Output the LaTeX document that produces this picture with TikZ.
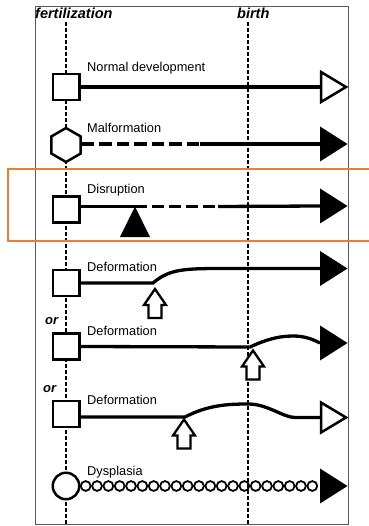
\documentclass[tikz,border=0pt]{standalone}
\usepackage{fontspec}
\setmainfont{Liberation Sans}
\usetikzlibrary{shapes.geometric}
\definecolor{hlorange}{RGB}{237,125,49}
\begin{document}
\begin{tikzpicture}[x=1pt,y=-1pt,
  box/.style={draw,line width=2.5pt,fill=white,minimum width=26.5pt,minimum height=26pt,inner sep=0pt},
  hexbox/.style={draw,line width=2.5pt,fill=white,regular polygon,regular polygon sides=6,shape border rotate=30,minimum size=34pt,inner sep=0pt},
  roundbox/.style={draw,circle,line width=2.5pt,fill=white,minimum size=26.5pt,inner sep=0pt},
  flow/.style={line width=3.3pt},
  longdash/.style={line width=3.3pt,dash pattern=on 12.5pt off 5pt},
  vdash/.style={line width=2.5pt,dash pattern=on 3.8pt off 2.2pt},
  lbl/.style={anchor=base west,inner sep=0pt,font=\fontsize{12.8}{14}\selectfont},
  hdr/.style={anchor=base west,inner sep=0pt,font=\fontsize{14.5}{16}\selectfont\bfseries\itshape},
  ortext/.style={anchor=base west,inner sep=0pt,font=\fontsize{13}{15}\selectfont\bfseries\itshape},
  openhead/.style={draw,line width=2.5pt,fill=white,line join=miter},
  uparrow/.style={draw,line width=2.3pt,fill=white,line join=miter},
  smallring/.style={draw,line width=1.8pt},
]
\useasboundingbox (0,0) rectangle (368,526);
% frame
\draw[black!65,line width=1pt] (35,7) rectangle (348,524);
% headers
\node[hdr] (fert) at (35,18.5) {fertilization};
\node[hdr] (birth) at (237,18.5) {birth};
% time lines
\coordinate (ftop) at (66,22);
\coordinate (fbot) at (66,526);
\coordinate (btop) at (248,22);
\coordinate (bbot) at (248,526);
\draw[vdash] (ftop) -- (fbot);
\draw[vdash] (btop) -- (bbot);

% highlight
\draw[hlorange,line width=1.2pt] (369,169) -- (8,169) -- (8,241) -- (369,241);

% row 1: normal development
\node[box] (n1) at (66,87) {};
\coordinate (h1) at (320,87);
\draw[flow] (n1.east) -- (h1);
\draw[openhead] (h1) ++(1,-15) -- ++(25,15) -- ++(-25,15) -- cycle;
\node[lbl] (l1) at (87,72) {Normal development};

% row 2: malformation
\node[hexbox] (n2) at (66,145) {};
\coordinate (m2) at (200,144);
\coordinate (h2) at (320,144);
\draw[longdash] (n2.east |- m2) -- (m2);
\draw[flow] (m2) -- (h2);
\fill (h2) ++(0,-17.5) -- ++(27.5,17.5) -- ++(-27.5,17.5) -- cycle;
\node[lbl] (l2) at (87,132.5) {Malformation};

% row 3: disruption
\node[box] (n3) at (66,209.5) {};
\coordinate (a3) at (135,206.5);
\coordinate (b3) at (218,206.5);
\coordinate (h3) at (320,206);
\draw[flow] (n3.east |- a3) -- (a3);
\draw[longdash,dash pattern=on 12pt off 5pt] (a3) -- (b3);
\draw[flow] (b3) -- (h3);
\fill (h3) ++(0,-17.5) -- ++(27.5,17.5) -- ++(-27.5,17.5) -- cycle;
\fill (a3) -- ++(15,30.5) -- ++(-30,0) -- cycle;
\node[lbl] (l3) at (87,194) {Disruption};

% row 4: deformation (early)
\node[box] (n4) at (66,283) {};
\coordinate (c4) at (153,283);
\coordinate (h4) at (320,268.5);
\draw[flow] (n4.east) -- (c4) .. controls (170,268.5) and (185,268.5) .. (228,268.5) -- (h4);
\fill (h4) ++(0,-17.5) -- ++(27.5,17.5) -- ++(-27.5,17.5) -- cycle;
\coordinate (u4) at (155,289);
\draw[uparrow] (u4) -- ++(11,16) -- ++(-4.5,0) -- ++(0,13) -- ++(-13,0) -- ++(0,-13) -- ++(-4.5,0) -- cycle;
\node[lbl] (l4) at (87,271) {Deformation};

% row 5: deformation (at birth)
\node[ortext] (or1) at (45,324) {or};
\node[box] (n5) at (66,346.5) {};
\coordinate (c5) at (250,347);
\coordinate (h5) at (320,343);
\draw[flow] (n5.east) -- (c5) .. controls (265,340) and (278,336) .. (293,336) .. controls (305,336) and (313,339.5) .. (h5);
\fill (h5) ++(0,-17.5) -- ++(27.5,17.5) -- ++(-27.5,17.5) -- cycle;
\coordinate (u5) at (253,350.5);
\draw[uparrow] (u5) -- ++(11,16) -- ++(-4.5,0) -- ++(0,13) -- ++(-13,0) -- ++(0,-13) -- ++(-4.5,0) -- cycle;
\node[lbl] (l5) at (87,335) {Deformation};

% row 6: deformation (transient)
\node[ortext] (or2) at (43,392) {or};
\node[box] (n6) at (66,414) {};
\coordinate (c6) at (185,417);
\coordinate (h6) at (320,417.5);
\draw[flow] (n6.east |- c6) -- (c6) .. controls (208,405) and (228,404) .. (248,404) .. controls (268,404) and (283,417.5) .. (295,417.5) -- (h6);
\draw[openhead] (h6) ++(1,-15) -- ++(25,15) -- ++(-25,15) -- cycle;
\coordinate (u6) at (184,419.5);
\draw[uparrow] (u6) -- ++(11,16) -- ++(-4.5,0) -- ++(0,13) -- ++(-13,0) -- ++(0,-13) -- ++(-4.5,0) -- cycle;
\node[lbl] (l6) at (87,404) {Deformation};

% row 7: dysplasia
\node[roundbox] (n7) at (66,486) {};
\coordinate (h7) at (320,486);
\foreach \i in {0,...,20} \draw[smallring] ({85.7+\i*11.33},486) circle (4.9);
\fill (h7) ++(0,-17.5) -- ++(27.5,17.5) -- ++(-27.5,17.5) -- cycle;
\node[lbl] (l7) at (87,475) {Dysplasia};
\end{tikzpicture}
\end{document}
